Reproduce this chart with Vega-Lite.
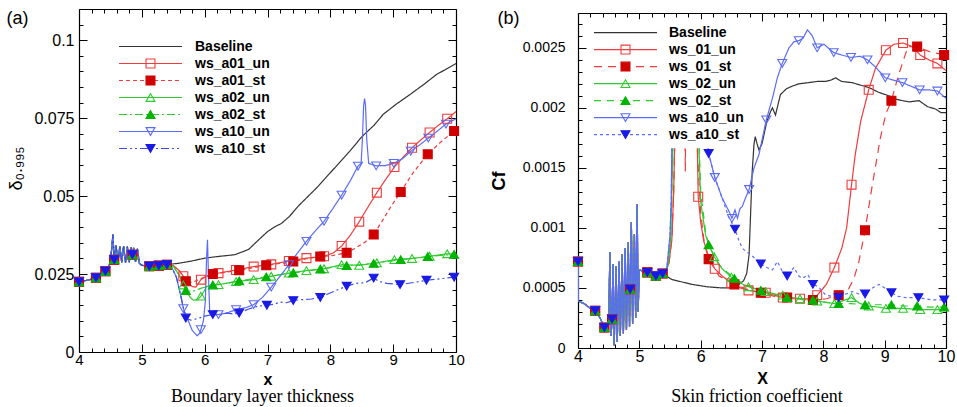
{
"$schema":"https://vega.github.io/schema/vega-lite/v6.json",
"background":"white",
"padding":{"left":6,"top":8,"right":5,"bottom":0},
"config":{"view":{"stroke":null},"font":"Liberation Sans"},
"spacing":25,
"datasets":{
"a":[
{"s":"Baseline","x":4,"y":0.0225},{"s":"Baseline","x":4.15,"y":0.0231},{"s":"Baseline","x":4.27,"y":0.0238},{"s":"Baseline","x":4.35,"y":0.0245},{"s":"Baseline","x":4.42,"y":0.0259},{"s":"Baseline","x":4.5,"y":0.0285},{"s":"Baseline","x":4.54,"y":0.0377},{"s":"Baseline","x":4.56,"y":0.0296},{"s":"Baseline","x":4.59,"y":0.0341},{"s":"Baseline","x":4.62,"y":0.0287},{"s":"Baseline","x":4.65,"y":0.034},{"s":"Baseline","x":4.68,"y":0.0287},{"s":"Baseline","x":4.71,"y":0.0339},{"s":"Baseline","x":4.74,"y":0.0287},{"s":"Baseline","x":4.77,"y":0.0338},{"s":"Baseline","x":4.8,"y":0.0288},{"s":"Baseline","x":4.83,"y":0.0336},{"s":"Baseline","x":4.85,"y":0.0312},{"s":"Baseline","x":4.87,"y":0.0334},{"s":"Baseline","x":4.9,"y":0.0289},{"s":"Baseline","x":4.93,"y":0.0331},{"s":"Baseline","x":4.96,"y":0.0285},{"s":"Baseline","x":5,"y":0.0278},{"s":"Baseline","x":5.12,"y":0.0275},{"s":"Baseline","x":5.27,"y":0.0277},{"s":"Baseline","x":5.4,"y":0.028},
{"s":"Baseline","x":5.6,"y":0.0285},{"s":"Baseline","x":5.8,"y":0.0292},{"s":"Baseline","x":6,"y":0.0301},{"s":"Baseline","x":6.2,"y":0.0306},{"s":"Baseline","x":6.48,"y":0.0312},{"s":"Baseline","x":6.7,"y":0.0329},{"s":"Baseline","x":6.85,"y":0.0358},{"s":"Baseline","x":7,"y":0.0386},{"s":"Baseline","x":7.12,"y":0.0402},{"s":"Baseline","x":7.22,"y":0.0412},{"s":"Baseline","x":7.35,"y":0.0435},{"s":"Baseline","x":7.5,"y":0.047},{"s":"Baseline","x":7.78,"y":0.0526},{"s":"Baseline","x":8,"y":0.0575},{"s":"Baseline","x":8.31,"y":0.0644},{"s":"Baseline","x":8.5,"y":0.069},{"s":"Baseline","x":8.7,"y":0.0728},{"s":"Baseline","x":8.84,"y":0.0762},{"s":"Baseline","x":9.05,"y":0.0795},{"s":"Baseline","x":9.27,"y":0.0826},{"s":"Baseline","x":9.5,"y":0.086},{"s":"Baseline","x":9.69,"y":0.089},{"s":"Baseline","x":9.85,"y":0.0908},{"s":"Baseline","x":10,"y":0.0925},
{"s":"ws_a01_un","x":4,"y":0.0225,"m":1},{"s":"ws_a01_un","x":4.15,"y":0.0231},{"s":"ws_a01_un","x":4.27,"y":0.0238,"m":1},{"s":"ws_a01_un","x":4.35,"y":0.0245},{"s":"ws_a01_un","x":4.42,"y":0.0259,"m":1},{"s":"ws_a01_un","x":4.5,"y":0.0285},{"s":"ws_a01_un","x":4.54,"y":0.0377},{"s":"ws_a01_un","x":4.56,"y":0.0296,"m":1},{"s":"ws_a01_un","x":4.59,"y":0.0341},{"s":"ws_a01_un","x":4.62,"y":0.0287},{"s":"ws_a01_un","x":4.65,"y":0.034},{"s":"ws_a01_un","x":4.68,"y":0.0287},{"s":"ws_a01_un","x":4.71,"y":0.0339},{"s":"ws_a01_un","x":4.74,"y":0.0287},{"s":"ws_a01_un","x":4.77,"y":0.0338},{"s":"ws_a01_un","x":4.8,"y":0.0288},{"s":"ws_a01_un","x":4.83,"y":0.0336},{"s":"ws_a01_un","x":4.85,"y":0.0312,"m":1},{"s":"ws_a01_un","x":4.87,"y":0.0334},{"s":"ws_a01_un","x":4.9,"y":0.0289},{"s":"ws_a01_un","x":4.93,"y":0.0331},{"s":"ws_a01_un","x":4.96,"y":0.0285},{"s":"ws_a01_un","x":5,"y":0.0278},{"s":"ws_a01_un","x":5.12,"y":0.0275,"m":1},{"s":"ws_a01_un","x":5.27,"y":0.0277,"m":1},{"s":"ws_a01_un","x":5.4,"y":0.028,"m":1},
{"s":"ws_a01_un","x":5.5,"y":0.0277},{"s":"ws_a01_un","x":5.6,"y":0.026},{"s":"ws_a01_un","x":5.66,"y":0.0243,"m":1},{"s":"ws_a01_un","x":5.72,"y":0.0225},{"s":"ws_a01_un","x":5.8,"y":0.021},{"s":"ws_a01_un","x":5.86,"y":0.0208},{"s":"ws_a01_un","x":5.94,"y":0.0232,"m":1},{"s":"ws_a01_un","x":6.02,"y":0.0243},{"s":"ws_a01_un","x":6.1,"y":0.0248},{"s":"ws_a01_un","x":6.22,"y":0.0253,"m":1},{"s":"ws_a01_un","x":6.5,"y":0.0263,"m":1},{"s":"ws_a01_un","x":6.78,"y":0.0274,"m":1},{"s":"ws_a01_un","x":7.06,"y":0.0281,"m":1},{"s":"ws_a01_un","x":7.34,"y":0.0292,"m":1},{"s":"ws_a01_un","x":7.62,"y":0.0301,"m":1},{"s":"ws_a01_un","x":7.9,"y":0.0307,"m":1},{"s":"ws_a01_un","x":8.05,"y":0.0318},{"s":"ws_a01_un","x":8.18,"y":0.034,"m":1},{"s":"ws_a01_un","x":8.32,"y":0.0375},{"s":"ws_a01_un","x":8.46,"y":0.0418,"m":1},{"s":"ws_a01_un","x":8.6,"y":0.0465},{"s":"ws_a01_un","x":8.74,"y":0.0511,"m":1},{"s":"ws_a01_un","x":8.88,"y":0.0553},{"s":"ws_a01_un","x":9.02,"y":0.0593,"m":1},{"s":"ws_a01_un","x":9.16,"y":0.0625},{"s":"ws_a01_un","x":9.3,"y":0.0655,"m":1},{"s":"ws_a01_un","x":9.44,"y":0.068},{"s":"ws_a01_un","x":9.58,"y":0.0704,"m":1},{"s":"ws_a01_un","x":9.72,"y":0.0727},{"s":"ws_a01_un","x":9.86,"y":0.0748,"m":1},{"s":"ws_a01_un","x":10,"y":0.0771},
{"s":"ws_a01_st","x":4,"y":0.0225,"m":1},{"s":"ws_a01_st","x":4.15,"y":0.0231},{"s":"ws_a01_st","x":4.27,"y":0.0238,"m":1},{"s":"ws_a01_st","x":4.35,"y":0.0245},{"s":"ws_a01_st","x":4.42,"y":0.0259,"m":1},{"s":"ws_a01_st","x":4.5,"y":0.0285},{"s":"ws_a01_st","x":4.54,"y":0.0377},{"s":"ws_a01_st","x":4.56,"y":0.0296,"m":1},{"s":"ws_a01_st","x":4.59,"y":0.0341},{"s":"ws_a01_st","x":4.62,"y":0.0287},{"s":"ws_a01_st","x":4.65,"y":0.034},{"s":"ws_a01_st","x":4.68,"y":0.0287},{"s":"ws_a01_st","x":4.71,"y":0.0339},{"s":"ws_a01_st","x":4.74,"y":0.0287},{"s":"ws_a01_st","x":4.77,"y":0.0338},{"s":"ws_a01_st","x":4.8,"y":0.0288},{"s":"ws_a01_st","x":4.83,"y":0.0336},{"s":"ws_a01_st","x":4.85,"y":0.0312,"m":1},{"s":"ws_a01_st","x":4.87,"y":0.0334},{"s":"ws_a01_st","x":4.9,"y":0.0289},{"s":"ws_a01_st","x":4.93,"y":0.0331},{"s":"ws_a01_st","x":4.96,"y":0.0285},{"s":"ws_a01_st","x":5,"y":0.0278},{"s":"ws_a01_st","x":5.12,"y":0.0275,"m":1},{"s":"ws_a01_st","x":5.27,"y":0.0277,"m":1},{"s":"ws_a01_st","x":5.4,"y":0.028,"m":1},
{"s":"ws_a01_st","x":5.5,"y":0.0277},{"s":"ws_a01_st","x":5.6,"y":0.026},{"s":"ws_a01_st","x":5.7,"y":0.0227,"m":1},{"s":"ws_a01_st","x":5.8,"y":0.0223},{"s":"ws_a01_st","x":5.95,"y":0.0236},{"s":"ws_a01_st","x":6.13,"y":0.025,"m":1},{"s":"ws_a01_st","x":6.34,"y":0.0256},{"s":"ws_a01_st","x":6.55,"y":0.0262,"m":1},{"s":"ws_a01_st","x":6.77,"y":0.027},{"s":"ws_a01_st","x":6.98,"y":0.0278,"m":1},{"s":"ws_a01_st","x":7.2,"y":0.0284},{"s":"ws_a01_st","x":7.41,"y":0.029,"m":1},{"s":"ws_a01_st","x":7.62,"y":0.0299},{"s":"ws_a01_st","x":7.84,"y":0.0306,"m":1},{"s":"ws_a01_st","x":8.05,"y":0.031},{"s":"ws_a01_st","x":8.26,"y":0.0318,"m":1},{"s":"ws_a01_st","x":8.4,"y":0.0333},{"s":"ws_a01_st","x":8.55,"y":0.0352},{"s":"ws_a01_st","x":8.69,"y":0.0377,"m":1},{"s":"ws_a01_st","x":8.82,"y":0.0418},{"s":"ws_a01_st","x":8.96,"y":0.0465},{"s":"ws_a01_st","x":9.12,"y":0.0513,"m":1},{"s":"ws_a01_st","x":9.3,"y":0.057},{"s":"ws_a01_st","x":9.55,"y":0.0634,"m":1},{"s":"ws_a01_st","x":9.75,"y":0.0672},{"s":"ws_a01_st","x":9.97,"y":0.0709,"m":1},{"s":"ws_a01_st","x":10,"y":0.0712},
{"s":"ws_a02_un","x":4,"y":0.0225,"m":1},{"s":"ws_a02_un","x":4.15,"y":0.0231},{"s":"ws_a02_un","x":4.27,"y":0.0238,"m":1},{"s":"ws_a02_un","x":4.35,"y":0.0245},{"s":"ws_a02_un","x":4.42,"y":0.0259,"m":1},{"s":"ws_a02_un","x":4.5,"y":0.0285},{"s":"ws_a02_un","x":4.54,"y":0.0377},{"s":"ws_a02_un","x":4.56,"y":0.0296,"m":1},{"s":"ws_a02_un","x":4.59,"y":0.0341},{"s":"ws_a02_un","x":4.62,"y":0.0287},{"s":"ws_a02_un","x":4.65,"y":0.034},{"s":"ws_a02_un","x":4.68,"y":0.0287},{"s":"ws_a02_un","x":4.71,"y":0.0339},{"s":"ws_a02_un","x":4.74,"y":0.0287},{"s":"ws_a02_un","x":4.77,"y":0.0338},{"s":"ws_a02_un","x":4.8,"y":0.0288},{"s":"ws_a02_un","x":4.83,"y":0.0336},{"s":"ws_a02_un","x":4.85,"y":0.0312,"m":1},{"s":"ws_a02_un","x":4.87,"y":0.0334},{"s":"ws_a02_un","x":4.9,"y":0.0289},{"s":"ws_a02_un","x":4.93,"y":0.0331},{"s":"ws_a02_un","x":4.96,"y":0.0285},{"s":"ws_a02_un","x":5,"y":0.0278},{"s":"ws_a02_un","x":5.12,"y":0.0275,"m":1},{"s":"ws_a02_un","x":5.27,"y":0.0277,"m":1},{"s":"ws_a02_un","x":5.4,"y":0.028,"m":1},
{"s":"ws_a02_un","x":5.5,"y":0.0275},{"s":"ws_a02_un","x":5.6,"y":0.0245},{"s":"ws_a02_un","x":5.66,"y":0.0215,"m":1},{"s":"ws_a02_un","x":5.72,"y":0.0193},{"s":"ws_a02_un","x":5.77,"y":0.0175},{"s":"ws_a02_un","x":5.82,"y":0.0166},{"s":"ws_a02_un","x":5.89,"y":0.0168},{"s":"ws_a02_un","x":5.94,"y":0.0179,"m":1},{"s":"ws_a02_un","x":5.99,"y":0.0195},{"s":"ws_a02_un","x":6.03,"y":0.021},{"s":"ws_a02_un","x":6.1,"y":0.0214},{"s":"ws_a02_un","x":6.22,"y":0.0216,"m":1},{"s":"ws_a02_un","x":6.5,"y":0.0226,"m":1},{"s":"ws_a02_un","x":6.78,"y":0.0232,"m":1},{"s":"ws_a02_un","x":7.06,"y":0.0243,"m":1},{"s":"ws_a02_un","x":7.34,"y":0.0253,"m":1},{"s":"ws_a02_un","x":7.62,"y":0.0261,"m":1},{"s":"ws_a02_un","x":7.9,"y":0.0267,"m":1},{"s":"ws_a02_un","x":8.18,"y":0.028,"m":1},{"s":"ws_a02_un","x":8.46,"y":0.0278,"m":1},{"s":"ws_a02_un","x":8.74,"y":0.0286,"m":1},{"s":"ws_a02_un","x":9.02,"y":0.0296,"m":1},{"s":"ws_a02_un","x":9.3,"y":0.03,"m":1},{"s":"ws_a02_un","x":9.58,"y":0.0307,"m":1},{"s":"ws_a02_un","x":9.86,"y":0.0315,"m":1},{"s":"ws_a02_un","x":10,"y":0.0315},
{"s":"ws_a02_st","x":4,"y":0.0225,"m":1},{"s":"ws_a02_st","x":4.15,"y":0.0231},{"s":"ws_a02_st","x":4.27,"y":0.0238,"m":1},{"s":"ws_a02_st","x":4.35,"y":0.0245},{"s":"ws_a02_st","x":4.42,"y":0.0259,"m":1},{"s":"ws_a02_st","x":4.5,"y":0.0285},{"s":"ws_a02_st","x":4.54,"y":0.0377},{"s":"ws_a02_st","x":4.56,"y":0.0296,"m":1},{"s":"ws_a02_st","x":4.59,"y":0.0341},{"s":"ws_a02_st","x":4.62,"y":0.0287},{"s":"ws_a02_st","x":4.65,"y":0.034},{"s":"ws_a02_st","x":4.68,"y":0.0287},{"s":"ws_a02_st","x":4.71,"y":0.0339},{"s":"ws_a02_st","x":4.74,"y":0.0287},{"s":"ws_a02_st","x":4.77,"y":0.0338},{"s":"ws_a02_st","x":4.8,"y":0.0288},{"s":"ws_a02_st","x":4.83,"y":0.0336},{"s":"ws_a02_st","x":4.85,"y":0.0312,"m":1},{"s":"ws_a02_st","x":4.87,"y":0.0334},{"s":"ws_a02_st","x":4.9,"y":0.0289},{"s":"ws_a02_st","x":4.93,"y":0.0331},{"s":"ws_a02_st","x":4.96,"y":0.0285},{"s":"ws_a02_st","x":5,"y":0.0278},{"s":"ws_a02_st","x":5.12,"y":0.0275,"m":1},{"s":"ws_a02_st","x":5.27,"y":0.0277,"m":1},{"s":"ws_a02_st","x":5.4,"y":0.028,"m":1},
{"s":"ws_a02_st","x":5.5,"y":0.0275},{"s":"ws_a02_st","x":5.6,"y":0.0245},{"s":"ws_a02_st","x":5.7,"y":0.0197,"m":1},{"s":"ws_a02_st","x":5.8,"y":0.0194},{"s":"ws_a02_st","x":5.95,"y":0.0205},{"s":"ws_a02_st","x":6.13,"y":0.0215,"m":1},{"s":"ws_a02_st","x":6.34,"y":0.022},{"s":"ws_a02_st","x":6.55,"y":0.0228,"m":1},{"s":"ws_a02_st","x":6.77,"y":0.0235},{"s":"ws_a02_st","x":6.98,"y":0.0241,"m":1},{"s":"ws_a02_st","x":7.2,"y":0.0248},{"s":"ws_a02_st","x":7.41,"y":0.0254,"m":1},{"s":"ws_a02_st","x":7.62,"y":0.026},{"s":"ws_a02_st","x":7.84,"y":0.0266,"m":1},{"s":"ws_a02_st","x":8.05,"y":0.0272},{"s":"ws_a02_st","x":8.26,"y":0.0277,"m":1},{"s":"ws_a02_st","x":8.48,"y":0.028},{"s":"ws_a02_st","x":8.69,"y":0.0284,"m":1},{"s":"ws_a02_st","x":8.9,"y":0.029},{"s":"ws_a02_st","x":9.12,"y":0.0296,"m":1},{"s":"ws_a02_st","x":9.33,"y":0.03},{"s":"ws_a02_st","x":9.55,"y":0.0306,"m":1},{"s":"ws_a02_st","x":9.76,"y":0.031},{"s":"ws_a02_st","x":9.97,"y":0.0313,"m":1},
{"s":"ws_a10_un","x":4,"y":0.0225,"m":1},{"s":"ws_a10_un","x":4.15,"y":0.0231},{"s":"ws_a10_un","x":4.27,"y":0.0238,"m":1},{"s":"ws_a10_un","x":4.35,"y":0.0245},{"s":"ws_a10_un","x":4.42,"y":0.0259,"m":1},{"s":"ws_a10_un","x":4.5,"y":0.0285},{"s":"ws_a10_un","x":4.54,"y":0.0377},{"s":"ws_a10_un","x":4.56,"y":0.0296,"m":1},{"s":"ws_a10_un","x":4.59,"y":0.0341},{"s":"ws_a10_un","x":4.62,"y":0.0287},{"s":"ws_a10_un","x":4.65,"y":0.034},{"s":"ws_a10_un","x":4.68,"y":0.0287},{"s":"ws_a10_un","x":4.71,"y":0.0339},{"s":"ws_a10_un","x":4.74,"y":0.0287},{"s":"ws_a10_un","x":4.77,"y":0.0338},{"s":"ws_a10_un","x":4.8,"y":0.0288},{"s":"ws_a10_un","x":4.83,"y":0.0336},{"s":"ws_a10_un","x":4.85,"y":0.0312,"m":1},{"s":"ws_a10_un","x":4.87,"y":0.0334},{"s":"ws_a10_un","x":4.9,"y":0.0289},{"s":"ws_a10_un","x":4.93,"y":0.0331},{"s":"ws_a10_un","x":4.96,"y":0.0285},{"s":"ws_a10_un","x":5,"y":0.0278},{"s":"ws_a10_un","x":5.12,"y":0.0275,"m":1},{"s":"ws_a10_un","x":5.27,"y":0.0277,"m":1},{"s":"ws_a10_un","x":5.4,"y":0.028,"m":1},
{"s":"ws_a10_un","x":5.48,"y":0.027},{"s":"ws_a10_un","x":5.55,"y":0.024},{"s":"ws_a10_un","x":5.62,"y":0.018},{"s":"ws_a10_un","x":5.66,"y":0.0139,"m":1},{"s":"ws_a10_un","x":5.72,"y":0.011},{"s":"ws_a10_un","x":5.8,"y":0.007},{"s":"ws_a10_un","x":5.88,"y":0.0052},{"s":"ws_a10_un","x":5.92,"y":0.006},{"s":"ws_a10_un","x":5.94,"y":0.0072,"m":1},{"s":"ws_a10_un","x":5.98,"y":0.01},{"s":"ws_a10_un","x":6.01,"y":0.016},{"s":"ws_a10_un","x":6.03,"y":0.03},{"s":"ws_a10_un","x":6.045,"y":0.036},{"s":"ws_a10_un","x":6.06,"y":0.025},{"s":"ws_a10_un","x":6.08,"y":0.013},{"s":"ws_a10_un","x":6.12,"y":0.0122},{"s":"ws_a10_un","x":6.22,"y":0.012,"m":1},{"s":"ws_a10_un","x":6.35,"y":0.0125},{"s":"ws_a10_un","x":6.5,"y":0.0136,"m":1},{"s":"ws_a10_un","x":6.65,"y":0.0142},{"s":"ws_a10_un","x":6.78,"y":0.0152,"m":1},{"s":"ws_a10_un","x":6.92,"y":0.0175},{"s":"ws_a10_un","x":7.06,"y":0.0208,"m":1},{"s":"ws_a10_un","x":7.2,"y":0.0243},{"s":"ws_a10_un","x":7.34,"y":0.028,"m":1},{"s":"ws_a10_un","x":7.48,"y":0.0318},{"s":"ws_a10_un","x":7.62,"y":0.0355,"m":1},{"s":"ws_a10_un","x":7.76,"y":0.0388},{"s":"ws_a10_un","x":7.9,"y":0.0419,"m":1},{"s":"ws_a10_un","x":8.04,"y":0.046},{"s":"ws_a10_un","x":8.18,"y":0.0503,"m":1},{"s":"ws_a10_un","x":8.32,"y":0.055},{"s":"ws_a10_un","x":8.44,"y":0.0596,"m":1},{"s":"ws_a10_un","x":8.49,"y":0.0605},{"s":"ws_a10_un","x":8.51,"y":0.068},{"s":"ws_a10_un","x":8.53,"y":0.079},{"s":"ws_a10_un","x":8.545,"y":0.0813},{"s":"ws_a10_un","x":8.56,"y":0.079},{"s":"ws_a10_un","x":8.58,"y":0.068},{"s":"ws_a10_un","x":8.61,"y":0.0605},{"s":"ws_a10_un","x":8.73,"y":0.0597,"m":1},{"s":"ws_a10_un","x":8.88,"y":0.0598},{"s":"ws_a10_un","x":9.01,"y":0.0605,"m":1},{"s":"ws_a10_un","x":9.15,"y":0.062},{"s":"ws_a10_un","x":9.28,"y":0.0644,"m":1},{"s":"ws_a10_un","x":9.42,"y":0.0664},{"s":"ws_a10_un","x":9.56,"y":0.0686,"m":1},{"s":"ws_a10_un","x":9.7,"y":0.0708},{"s":"ws_a10_un","x":9.84,"y":0.0731,"m":1},{"s":"ws_a10_un","x":10,"y":0.0748},
{"s":"ws_a10_st","x":4,"y":0.0225,"m":1},{"s":"ws_a10_st","x":4.15,"y":0.0231},{"s":"ws_a10_st","x":4.27,"y":0.0238,"m":1},{"s":"ws_a10_st","x":4.35,"y":0.0245},{"s":"ws_a10_st","x":4.42,"y":0.0259,"m":1},{"s":"ws_a10_st","x":4.5,"y":0.0285},{"s":"ws_a10_st","x":4.54,"y":0.0377},{"s":"ws_a10_st","x":4.56,"y":0.0296,"m":1},{"s":"ws_a10_st","x":4.59,"y":0.0341},{"s":"ws_a10_st","x":4.62,"y":0.0287},{"s":"ws_a10_st","x":4.65,"y":0.034},{"s":"ws_a10_st","x":4.68,"y":0.0287},{"s":"ws_a10_st","x":4.71,"y":0.0339},{"s":"ws_a10_st","x":4.74,"y":0.0287},{"s":"ws_a10_st","x":4.77,"y":0.0338},{"s":"ws_a10_st","x":4.8,"y":0.0288},{"s":"ws_a10_st","x":4.83,"y":0.0336},{"s":"ws_a10_st","x":4.85,"y":0.0312,"m":1},{"s":"ws_a10_st","x":4.87,"y":0.0334},{"s":"ws_a10_st","x":4.9,"y":0.0289},{"s":"ws_a10_st","x":4.93,"y":0.0331},{"s":"ws_a10_st","x":4.96,"y":0.0285},{"s":"ws_a10_st","x":5,"y":0.0278},{"s":"ws_a10_st","x":5.12,"y":0.0275,"m":1},{"s":"ws_a10_st","x":5.27,"y":0.0277,"m":1},{"s":"ws_a10_st","x":5.4,"y":0.028,"m":1},
{"s":"ws_a10_st","x":5.48,"y":0.027},{"s":"ws_a10_st","x":5.55,"y":0.024},{"s":"ws_a10_st","x":5.62,"y":0.018},{"s":"ws_a10_st","x":5.7,"y":0.0109,"m":1},{"s":"ws_a10_st","x":5.78,"y":0.0102},{"s":"ws_a10_st","x":5.9,"y":0.0108},{"s":"ws_a10_st","x":6,"y":0.0115},{"s":"ws_a10_st","x":6.13,"y":0.012,"m":1},{"s":"ws_a10_st","x":6.25,"y":0.0118},{"s":"ws_a10_st","x":6.35,"y":0.0125},{"s":"ws_a10_st","x":6.45,"y":0.0122},{"s":"ws_a10_st","x":6.55,"y":0.0125,"m":1},{"s":"ws_a10_st","x":6.7,"y":0.0138},{"s":"ws_a10_st","x":6.85,"y":0.0147},{"s":"ws_a10_st","x":6.99,"y":0.015,"m":1},{"s":"ws_a10_st","x":7.1,"y":0.0153},{"s":"ws_a10_st","x":7.2,"y":0.016},{"s":"ws_a10_st","x":7.3,"y":0.0158},{"s":"ws_a10_st","x":7.41,"y":0.0165,"m":1},{"s":"ws_a10_st","x":7.55,"y":0.0168},{"s":"ws_a10_st","x":7.7,"y":0.017},{"s":"ws_a10_st","x":7.84,"y":0.0175,"m":1},{"s":"ws_a10_st","x":7.95,"y":0.0185},{"s":"ws_a10_st","x":8.1,"y":0.0198},{"s":"ws_a10_st","x":8.26,"y":0.0211,"m":1},{"s":"ws_a10_st","x":8.4,"y":0.022},{"s":"ws_a10_st","x":8.55,"y":0.0222},{"s":"ws_a10_st","x":8.69,"y":0.0237,"m":1},{"s":"ws_a10_st","x":8.78,"y":0.0226},{"s":"ws_a10_st","x":8.9,"y":0.022},{"s":"ws_a10_st","x":9.11,"y":0.0216,"m":1},{"s":"ws_a10_st","x":9.3,"y":0.0222},{"s":"ws_a10_st","x":9.53,"y":0.023,"m":1},{"s":"ws_a10_st","x":9.75,"y":0.0235},{"s":"ws_a10_st","x":9.97,"y":0.024,"m":1},{"s":"ws_a10_st","x":10,"y":0.0241}
],
"b":[
{"s":"Baseline","x":4,"y":0.00072},{"s":"Baseline","x":4.004,"y":0.00039},{"s":"Baseline","x":4.1,"y":0.00037},{"s":"Baseline","x":4.2,"y":0.00033},{"s":"Baseline","x":4.28,"y":0.00031},{"s":"Baseline","x":4.36,"y":0.00025},{"s":"Baseline","x":4.43,"y":0.00017},{"s":"Baseline","x":4.48,"y":0.00015},{"s":"Baseline","x":4.5,"y":0.0002},{"s":"Baseline","x":4.52,"y":0.0008},{"s":"Baseline","x":4.54,"y":0.0001},{"s":"Baseline","x":4.555,"y":0.00024},{"s":"Baseline","x":4.57,"y":0.0007},{"s":"Baseline","x":4.59,"y":0.00002},{"s":"Baseline","x":4.62,"y":0.00068},{"s":"Baseline","x":4.64,"y":0.00005},{"s":"Baseline","x":4.67,"y":0.00072},{"s":"Baseline","x":4.69,"y":0.0001},{"s":"Baseline","x":4.72,"y":0.00078},{"s":"Baseline","x":4.74,"y":0.00012},{"s":"Baseline","x":4.77,"y":0.00083},{"s":"Baseline","x":4.79,"y":0.00015},{"s":"Baseline","x":4.82,"y":0.00088},{"s":"Baseline","x":4.84,"y":0.00018},{"s":"Baseline","x":4.85,"y":0.00049},{"s":"Baseline","x":4.87,"y":0.00105},{"s":"Baseline","x":4.89,"y":0.0002},{"s":"Baseline","x":4.92,"y":0.00095},{"s":"Baseline","x":4.94,"y":0.00025},{"s":"Baseline","x":4.965,"y":0.0012},{"s":"Baseline","x":4.98,"y":0.0003},{"s":"Baseline","x":5,"y":0.00065},{"s":"Baseline","x":5.13,"y":0.00063},{"s":"Baseline","x":5.27,"y":0.0006},{"s":"Baseline","x":5.38,"y":0.00062},
{"s":"Baseline","x":5.53,"y":0.00057},{"s":"Baseline","x":5.86,"y":0.00053},{"s":"Baseline","x":6.1,"y":0.00051},{"s":"Baseline","x":6.35,"y":0.0005},{"s":"Baseline","x":6.46,"y":0.0005},{"s":"Baseline","x":6.6,"y":0.00052},{"s":"Baseline","x":6.7,"y":0.00056},{"s":"Baseline","x":6.75,"y":0.00062},{"s":"Baseline","x":6.79,"y":0.00078},{"s":"Baseline","x":6.81,"y":0.00106},{"s":"Baseline","x":6.84,"y":0.00147},{"s":"Baseline","x":6.87,"y":0.0017},{"s":"Baseline","x":6.89,"y":0.00176},{"s":"Baseline","x":6.92,"y":0.0017},{"s":"Baseline","x":6.95,"y":0.00165},{"s":"Baseline","x":7,"y":0.0017},{"s":"Baseline","x":7.08,"y":0.00189},{"s":"Baseline","x":7.14,"y":0.00197},{"s":"Baseline","x":7.17,"y":0.002},{"s":"Baseline","x":7.22,"y":0.00194},{"s":"Baseline","x":7.3,"y":0.00211},{"s":"Baseline","x":7.4,"y":0.00216},{"s":"Baseline","x":7.49,"y":0.00218},{"s":"Baseline","x":7.6,"y":0.0022},{"s":"Baseline","x":7.76,"y":0.00221},{"s":"Baseline","x":7.9,"y":0.00222},{"s":"Baseline","x":8.03,"y":0.00222},{"s":"Baseline","x":8.12,"y":0.00223},{"s":"Baseline","x":8.2,"y":0.00225},{"s":"Baseline","x":8.3,"y":0.00222},{"s":"Baseline","x":8.47,"y":0.00221},{"s":"Baseline","x":8.6,"y":0.00219},{"s":"Baseline","x":8.74,"y":0.00217},{"s":"Baseline","x":8.9,"y":0.00213},{"s":"Baseline","x":9.07,"y":0.0021},{"s":"Baseline","x":9.2,"y":0.00207},{"s":"Baseline","x":9.29,"y":0.00206},{"s":"Baseline","x":9.4,"y":0.00205},{"s":"Baseline","x":9.56,"y":0.00206},{"s":"Baseline","x":9.7,"y":0.00201},{"s":"Baseline","x":9.83,"y":0.00199},{"s":"Baseline","x":9.92,"y":0.00196},{"s":"Baseline","x":10,"y":0.00196},
{"s":"ws_01_un","x":4,"y":0.00072,"m":1},{"s":"ws_01_un","x":4.004,"y":0.00039},{"s":"ws_01_un","x":4.1,"y":0.00037},{"s":"ws_01_un","x":4.2,"y":0.00033},{"s":"ws_01_un","x":4.28,"y":0.00031,"m":1},{"s":"ws_01_un","x":4.36,"y":0.00025},{"s":"ws_01_un","x":4.43,"y":0.00017,"m":1},{"s":"ws_01_un","x":4.48,"y":0.00015},{"s":"ws_01_un","x":4.5,"y":0.0002},{"s":"ws_01_un","x":4.52,"y":0.0008},{"s":"ws_01_un","x":4.54,"y":0.0001},{"s":"ws_01_un","x":4.555,"y":0.00024,"m":1},{"s":"ws_01_un","x":4.57,"y":0.0007},{"s":"ws_01_un","x":4.59,"y":0.00002},{"s":"ws_01_un","x":4.62,"y":0.00068},{"s":"ws_01_un","x":4.64,"y":0.00005},{"s":"ws_01_un","x":4.67,"y":0.00072},{"s":"ws_01_un","x":4.69,"y":0.0001},{"s":"ws_01_un","x":4.72,"y":0.00078},{"s":"ws_01_un","x":4.74,"y":0.00012},{"s":"ws_01_un","x":4.77,"y":0.00083},{"s":"ws_01_un","x":4.79,"y":0.00015},{"s":"ws_01_un","x":4.82,"y":0.00088},{"s":"ws_01_un","x":4.84,"y":0.00018},{"s":"ws_01_un","x":4.85,"y":0.00049,"m":1},{"s":"ws_01_un","x":4.87,"y":0.00105},{"s":"ws_01_un","x":4.89,"y":0.0002},{"s":"ws_01_un","x":4.92,"y":0.00095},{"s":"ws_01_un","x":4.94,"y":0.00025},{"s":"ws_01_un","x":4.965,"y":0.0012},{"s":"ws_01_un","x":4.98,"y":0.0003},{"s":"ws_01_un","x":5,"y":0.00065},{"s":"ws_01_un","x":5.13,"y":0.00063,"m":1},{"s":"ws_01_un","x":5.27,"y":0.0006,"m":1},{"s":"ws_01_un","x":5.38,"y":0.00062,"m":1},
{"s":"ws_01_un","x":5.42,"y":0.00063},{"s":"ws_01_un","x":5.48,"y":0.0007},{"s":"ws_01_un","x":5.53,"y":0.0009},{"s":"ws_01_un","x":5.56,"y":0.0013},{"s":"ws_01_un","x":5.58,"y":0.0018},{"s":"ws_01_un","x":5.6,"y":0.0021},{"s":"ws_01_un","x":5.93,"y":0.0021},{"s":"ws_01_un","x":5.945,"y":0.0017},{"s":"ws_01_un","x":5.96,"y":0.00126,"m":1},{"s":"ws_01_un","x":6,"y":0.00105},{"s":"ws_01_un","x":6.05,"y":0.00089},{"s":"ws_01_un","x":6.13,"y":0.00076},{"s":"ws_01_un","x":6.23,"y":0.00066,"m":1},{"s":"ws_01_un","x":6.35,"y":0.0006},{"s":"ws_01_un","x":6.5,"y":0.00054,"m":1},{"s":"ws_01_un","x":6.65,"y":0.0005},{"s":"ws_01_un","x":6.78,"y":0.00048,"m":1},{"s":"ws_01_un","x":6.9,"y":0.00047},{"s":"ws_01_un","x":7.06,"y":0.00046,"m":1},{"s":"ws_01_un","x":7.2,"y":0.00044},{"s":"ws_01_un","x":7.34,"y":0.00042,"m":1},{"s":"ws_01_un","x":7.5,"y":0.00041},{"s":"ws_01_un","x":7.62,"y":0.00041,"m":1},{"s":"ws_01_un","x":7.78,"y":0.00041},{"s":"ws_01_un","x":7.9,"y":0.00044,"m":1},{"s":"ws_01_un","x":8.05,"y":0.00053},{"s":"ws_01_un","x":8.18,"y":0.00067,"m":1},{"s":"ws_01_un","x":8.3,"y":0.00083},{"s":"ws_01_un","x":8.38,"y":0.001},{"s":"ws_01_un","x":8.46,"y":0.00136,"m":1},{"s":"ws_01_un","x":8.52,"y":0.00161},{"s":"ws_01_un","x":8.61,"y":0.00189},{"s":"ws_01_un","x":8.74,"y":0.00215,"m":1},{"s":"ws_01_un","x":8.85,"y":0.00233},{"s":"ws_01_un","x":9.02,"y":0.00248,"m":1},{"s":"ws_01_un","x":9.15,"y":0.00253},{"s":"ws_01_un","x":9.3,"y":0.00254,"m":1},{"s":"ws_01_un","x":9.45,"y":0.00251},{"s":"ws_01_un","x":9.58,"y":0.00244,"m":1},{"s":"ws_01_un","x":9.72,"y":0.0024},{"s":"ws_01_un","x":9.86,"y":0.00237,"m":1},{"s":"ws_01_un","x":10,"y":0.00231},
{"s":"ws_01_st","x":4,"y":0.00072,"m":1},{"s":"ws_01_st","x":4.004,"y":0.00039},{"s":"ws_01_st","x":4.1,"y":0.00037},{"s":"ws_01_st","x":4.2,"y":0.00033},{"s":"ws_01_st","x":4.28,"y":0.00031,"m":1},{"s":"ws_01_st","x":4.36,"y":0.00025},{"s":"ws_01_st","x":4.43,"y":0.00017,"m":1},{"s":"ws_01_st","x":4.48,"y":0.00015},{"s":"ws_01_st","x":4.5,"y":0.0002},{"s":"ws_01_st","x":4.52,"y":0.0008},{"s":"ws_01_st","x":4.54,"y":0.0001},{"s":"ws_01_st","x":4.555,"y":0.00024,"m":1},{"s":"ws_01_st","x":4.57,"y":0.0007},{"s":"ws_01_st","x":4.59,"y":0.00002},{"s":"ws_01_st","x":4.62,"y":0.00068},{"s":"ws_01_st","x":4.64,"y":0.00005},{"s":"ws_01_st","x":4.67,"y":0.00072},{"s":"ws_01_st","x":4.69,"y":0.0001},{"s":"ws_01_st","x":4.72,"y":0.00078},{"s":"ws_01_st","x":4.74,"y":0.00012},{"s":"ws_01_st","x":4.77,"y":0.00083},{"s":"ws_01_st","x":4.79,"y":0.00015},{"s":"ws_01_st","x":4.82,"y":0.00088},{"s":"ws_01_st","x":4.84,"y":0.00018},{"s":"ws_01_st","x":4.85,"y":0.00049,"m":1},{"s":"ws_01_st","x":4.87,"y":0.00105},{"s":"ws_01_st","x":4.89,"y":0.0002},{"s":"ws_01_st","x":4.92,"y":0.00095},{"s":"ws_01_st","x":4.94,"y":0.00025},{"s":"ws_01_st","x":4.965,"y":0.0012},{"s":"ws_01_st","x":4.98,"y":0.0003},{"s":"ws_01_st","x":5,"y":0.00065},{"s":"ws_01_st","x":5.13,"y":0.00063,"m":1},{"s":"ws_01_st","x":5.27,"y":0.0006,"m":1},{"s":"ws_01_st","x":5.38,"y":0.00062,"m":1},
{"s":"ws_01_st","x":5.42,"y":0.00063},{"s":"ws_01_st","x":5.48,"y":0.0007},{"s":"ws_01_st","x":5.53,"y":0.0009},{"s":"ws_01_st","x":5.56,"y":0.0013},{"s":"ws_01_st","x":5.58,"y":0.0018},{"s":"ws_01_st","x":5.6,"y":0.0021},{"s":"ws_01_st","x":5.74,"y":0.0021},{"s":"ws_01_st","x":5.75,"y":0.00147},{"s":"ws_01_st","x":5.76,"y":0.0021},{"s":"ws_01_st","x":5.93,"y":0.0021},{"s":"ws_01_st","x":5.95,"y":0.0016},{"s":"ws_01_st","x":6,"y":0.00113},{"s":"ws_01_st","x":6.06,"y":0.00087},{"s":"ws_01_st","x":6.13,"y":0.00074,"m":1},{"s":"ws_01_st","x":6.3,"y":0.0006},{"s":"ws_01_st","x":6.55,"y":0.00053,"m":1},{"s":"ws_01_st","x":6.75,"y":0.00049},{"s":"ws_01_st","x":6.98,"y":0.00046,"m":1},{"s":"ws_01_st","x":7.2,"y":0.00043},{"s":"ws_01_st","x":7.41,"y":0.00042,"m":1},{"s":"ws_01_st","x":7.6,"y":0.00041},{"s":"ws_01_st","x":7.83,"y":0.0004,"m":1},{"s":"ws_01_st","x":8.05,"y":0.00041},{"s":"ws_01_st","x":8.25,"y":0.00044,"m":1},{"s":"ws_01_st","x":8.4,"y":0.00048},{"s":"ws_01_st","x":8.5,"y":0.00058},{"s":"ws_01_st","x":8.58,"y":0.00072},{"s":"ws_01_st","x":8.68,"y":0.00098,"m":1},{"s":"ws_01_st","x":8.79,"y":0.00133},{"s":"ws_01_st","x":8.93,"y":0.00175},{"s":"ws_01_st","x":9.02,"y":0.00195},{"s":"ws_01_st","x":9.11,"y":0.00206,"m":1},{"s":"ws_01_st","x":9.23,"y":0.00228},{"s":"ws_01_st","x":9.38,"y":0.00251},{"s":"ws_01_st","x":9.53,"y":0.00251,"m":1},{"s":"ws_01_st","x":9.72,"y":0.00247},{"s":"ws_01_st","x":9.97,"y":0.00244,"m":1},{"s":"ws_01_st","x":10,"y":0.00243},
{"s":"ws_02_un","x":4,"y":0.00072,"m":1},{"s":"ws_02_un","x":4.004,"y":0.00039},{"s":"ws_02_un","x":4.1,"y":0.00037},{"s":"ws_02_un","x":4.2,"y":0.00033},{"s":"ws_02_un","x":4.28,"y":0.00031,"m":1},{"s":"ws_02_un","x":4.36,"y":0.00025},{"s":"ws_02_un","x":4.43,"y":0.00017,"m":1},{"s":"ws_02_un","x":4.48,"y":0.00015},{"s":"ws_02_un","x":4.5,"y":0.0002},{"s":"ws_02_un","x":4.52,"y":0.0008},{"s":"ws_02_un","x":4.54,"y":0.0001},{"s":"ws_02_un","x":4.555,"y":0.00024,"m":1},{"s":"ws_02_un","x":4.57,"y":0.0007},{"s":"ws_02_un","x":4.59,"y":0.00002},{"s":"ws_02_un","x":4.62,"y":0.00068},{"s":"ws_02_un","x":4.64,"y":0.00005},{"s":"ws_02_un","x":4.67,"y":0.00072},{"s":"ws_02_un","x":4.69,"y":0.0001},{"s":"ws_02_un","x":4.72,"y":0.00078},{"s":"ws_02_un","x":4.74,"y":0.00012},{"s":"ws_02_un","x":4.77,"y":0.00083},{"s":"ws_02_un","x":4.79,"y":0.00015},{"s":"ws_02_un","x":4.82,"y":0.00088},{"s":"ws_02_un","x":4.84,"y":0.00018},{"s":"ws_02_un","x":4.85,"y":0.00049,"m":1},{"s":"ws_02_un","x":4.87,"y":0.00105},{"s":"ws_02_un","x":4.89,"y":0.0002},{"s":"ws_02_un","x":4.92,"y":0.00095},{"s":"ws_02_un","x":4.94,"y":0.00025},{"s":"ws_02_un","x":4.965,"y":0.0012},{"s":"ws_02_un","x":4.98,"y":0.0003},{"s":"ws_02_un","x":5,"y":0.00065},{"s":"ws_02_un","x":5.13,"y":0.00063,"m":1},{"s":"ws_02_un","x":5.27,"y":0.0006,"m":1},{"s":"ws_02_un","x":5.38,"y":0.00062,"m":1},
{"s":"ws_02_un","x":5.42,"y":0.00063},{"s":"ws_02_un","x":5.47,"y":0.0007},{"s":"ws_02_un","x":5.51,"y":0.0009},{"s":"ws_02_un","x":5.53,"y":0.0013},{"s":"ws_02_un","x":5.55,"y":0.0018},{"s":"ws_02_un","x":5.57,"y":0.0021},{"s":"ws_02_un","x":5.95,"y":0.0021},{"s":"ws_02_un","x":5.97,"y":0.0017},{"s":"ws_02_un","x":6,"y":0.00122},{"s":"ws_02_un","x":6.08,"y":0.00094},{"s":"ws_02_un","x":6.14,"y":0.00085},{"s":"ws_02_un","x":6.22,"y":0.00076,"m":1},{"s":"ws_02_un","x":6.35,"y":0.00066},{"s":"ws_02_un","x":6.5,"y":0.00059,"m":1},{"s":"ws_02_un","x":6.65,"y":0.00054},{"s":"ws_02_un","x":6.78,"y":0.00051,"m":1},{"s":"ws_02_un","x":6.92,"y":0.00049},{"s":"ws_02_un","x":7.06,"y":0.00047,"m":1},{"s":"ws_02_un","x":7.2,"y":0.00045},{"s":"ws_02_un","x":7.34,"y":0.00044,"m":1},{"s":"ws_02_un","x":7.5,"y":0.00042},{"s":"ws_02_un","x":7.62,"y":0.00041,"m":1},{"s":"ws_02_un","x":7.75,"y":0.0004},{"s":"ws_02_un","x":7.9,"y":0.00039,"m":1},{"s":"ws_02_un","x":8.05,"y":0.00038},{"s":"ws_02_un","x":8.18,"y":0.00037,"m":1},{"s":"ws_02_un","x":8.3,"y":0.00039},{"s":"ws_02_un","x":8.46,"y":0.00042,"m":1},{"s":"ws_02_un","x":8.6,"y":0.00037},{"s":"ws_02_un","x":8.74,"y":0.00035,"m":1},{"s":"ws_02_un","x":8.9,"y":0.00034},{"s":"ws_02_un","x":9.02,"y":0.00033,"m":1},{"s":"ws_02_un","x":9.3,"y":0.00033,"m":1},{"s":"ws_02_un","x":9.58,"y":0.00032,"m":1},{"s":"ws_02_un","x":9.86,"y":0.00032,"m":1},{"s":"ws_02_un","x":10,"y":0.00032},
{"s":"ws_02_st","x":4,"y":0.00072,"m":1},{"s":"ws_02_st","x":4.004,"y":0.00039},{"s":"ws_02_st","x":4.1,"y":0.00037},{"s":"ws_02_st","x":4.2,"y":0.00033},{"s":"ws_02_st","x":4.28,"y":0.00031,"m":1},{"s":"ws_02_st","x":4.36,"y":0.00025},{"s":"ws_02_st","x":4.43,"y":0.00017,"m":1},{"s":"ws_02_st","x":4.48,"y":0.00015},{"s":"ws_02_st","x":4.5,"y":0.0002},{"s":"ws_02_st","x":4.52,"y":0.0008},{"s":"ws_02_st","x":4.54,"y":0.0001},{"s":"ws_02_st","x":4.555,"y":0.00024,"m":1},{"s":"ws_02_st","x":4.57,"y":0.0007},{"s":"ws_02_st","x":4.59,"y":0.00002},{"s":"ws_02_st","x":4.62,"y":0.00068},{"s":"ws_02_st","x":4.64,"y":0.00005},{"s":"ws_02_st","x":4.67,"y":0.00072},{"s":"ws_02_st","x":4.69,"y":0.0001},{"s":"ws_02_st","x":4.72,"y":0.00078},{"s":"ws_02_st","x":4.74,"y":0.00012},{"s":"ws_02_st","x":4.77,"y":0.00083},{"s":"ws_02_st","x":4.79,"y":0.00015},{"s":"ws_02_st","x":4.82,"y":0.00088},{"s":"ws_02_st","x":4.84,"y":0.00018},{"s":"ws_02_st","x":4.85,"y":0.00049,"m":1},{"s":"ws_02_st","x":4.87,"y":0.00105},{"s":"ws_02_st","x":4.89,"y":0.0002},{"s":"ws_02_st","x":4.92,"y":0.00095},{"s":"ws_02_st","x":4.94,"y":0.00025},{"s":"ws_02_st","x":4.965,"y":0.0012},{"s":"ws_02_st","x":4.98,"y":0.0003},{"s":"ws_02_st","x":5,"y":0.00065},{"s":"ws_02_st","x":5.13,"y":0.00063,"m":1},{"s":"ws_02_st","x":5.27,"y":0.0006,"m":1},{"s":"ws_02_st","x":5.38,"y":0.00062,"m":1},
{"s":"ws_02_st","x":5.42,"y":0.00063},{"s":"ws_02_st","x":5.47,"y":0.0007},{"s":"ws_02_st","x":5.51,"y":0.0009},{"s":"ws_02_st","x":5.53,"y":0.0013},{"s":"ws_02_st","x":5.55,"y":0.0018},{"s":"ws_02_st","x":5.57,"y":0.0021},{"s":"ws_02_st","x":5.95,"y":0.0021},{"s":"ws_02_st","x":5.97,"y":0.0018},{"s":"ws_02_st","x":6,"y":0.0013},{"s":"ws_02_st","x":6.08,"y":0.00097},{"s":"ws_02_st","x":6.13,"y":0.00086,"m":1},{"s":"ws_02_st","x":6.3,"y":0.00069},{"s":"ws_02_st","x":6.55,"y":0.00058,"m":1},{"s":"ws_02_st","x":6.75,"y":0.00052},{"s":"ws_02_st","x":6.98,"y":0.00048,"m":1},{"s":"ws_02_st","x":7.2,"y":0.00045},{"s":"ws_02_st","x":7.41,"y":0.00042,"m":1},{"s":"ws_02_st","x":7.6,"y":0.00041},{"s":"ws_02_st","x":7.83,"y":0.0004,"m":1},{"s":"ws_02_st","x":8.05,"y":0.00038},{"s":"ws_02_st","x":8.25,"y":0.00037,"m":1},{"s":"ws_02_st","x":8.45,"y":0.00037},{"s":"ws_02_st","x":8.68,"y":0.00036,"m":1},{"s":"ws_02_st","x":8.9,"y":0.00036},{"s":"ws_02_st","x":9.11,"y":0.00036,"m":1},{"s":"ws_02_st","x":9.3,"y":0.00035},{"s":"ws_02_st","x":9.53,"y":0.00035,"m":1},{"s":"ws_02_st","x":9.75,"y":0.00034},{"s":"ws_02_st","x":9.97,"y":0.00034,"m":1},
{"s":"ws_a10_un","x":4,"y":0.00072,"m":1},{"s":"ws_a10_un","x":4.004,"y":0.00039},{"s":"ws_a10_un","x":4.1,"y":0.00037},{"s":"ws_a10_un","x":4.2,"y":0.00033},{"s":"ws_a10_un","x":4.28,"y":0.00031,"m":1},{"s":"ws_a10_un","x":4.36,"y":0.00025},{"s":"ws_a10_un","x":4.43,"y":0.00017,"m":1},{"s":"ws_a10_un","x":4.48,"y":0.00015},{"s":"ws_a10_un","x":4.5,"y":0.0002},{"s":"ws_a10_un","x":4.52,"y":0.0008},{"s":"ws_a10_un","x":4.54,"y":0.0001},{"s":"ws_a10_un","x":4.555,"y":0.00024,"m":1},{"s":"ws_a10_un","x":4.57,"y":0.0007},{"s":"ws_a10_un","x":4.59,"y":0.00002},{"s":"ws_a10_un","x":4.62,"y":0.00068},{"s":"ws_a10_un","x":4.64,"y":0.00005},{"s":"ws_a10_un","x":4.67,"y":0.00072},{"s":"ws_a10_un","x":4.69,"y":0.0001},{"s":"ws_a10_un","x":4.72,"y":0.00078},{"s":"ws_a10_un","x":4.74,"y":0.00012},{"s":"ws_a10_un","x":4.77,"y":0.00083},{"s":"ws_a10_un","x":4.79,"y":0.00015},{"s":"ws_a10_un","x":4.82,"y":0.00088},{"s":"ws_a10_un","x":4.84,"y":0.00018},{"s":"ws_a10_un","x":4.85,"y":0.00049,"m":1},{"s":"ws_a10_un","x":4.87,"y":0.00105},{"s":"ws_a10_un","x":4.89,"y":0.0002},{"s":"ws_a10_un","x":4.92,"y":0.00095},{"s":"ws_a10_un","x":4.94,"y":0.00025},{"s":"ws_a10_un","x":4.965,"y":0.0012},{"s":"ws_a10_un","x":4.98,"y":0.0003},{"s":"ws_a10_un","x":5,"y":0.00065},{"s":"ws_a10_un","x":5.13,"y":0.00063,"m":1},{"s":"ws_a10_un","x":5.27,"y":0.0006,"m":1},{"s":"ws_a10_un","x":5.38,"y":0.00062,"m":1},
{"s":"ws_a10_un","x":5.42,"y":0.00061},{"s":"ws_a10_un","x":5.45,"y":0.00067},{"s":"ws_a10_un","x":5.5,"y":0.00094},{"s":"ws_a10_un","x":5.52,"y":0.00122},{"s":"ws_a10_un","x":5.53,"y":0.0017},{"s":"ws_a10_un","x":5.55,"y":0.0021},{"s":"ws_a10_un","x":6.06,"y":0.0021},{"s":"ws_a10_un","x":6.1,"y":0.0018},{"s":"ws_a10_un","x":6.13,"y":0.00162},{"s":"ws_a10_un","x":6.23,"y":0.00142,"m":1},{"s":"ws_a10_un","x":6.35,"y":0.00125},{"s":"ws_a10_un","x":6.46,"y":0.00114},{"s":"ws_a10_un","x":6.51,"y":0.00108,"m":1},{"s":"ws_a10_un","x":6.56,"y":0.00115},{"s":"ws_a10_un","x":6.6,"y":0.00108},{"s":"ws_a10_un","x":6.64,"y":0.00116},{"s":"ws_a10_un","x":6.68,"y":0.00118},{"s":"ws_a10_un","x":6.73,"y":0.00125},{"s":"ws_a10_un","x":6.79,"y":0.00132,"m":1},{"s":"ws_a10_un","x":6.87,"y":0.0015},{"s":"ws_a10_un","x":6.95,"y":0.00161},{"s":"ws_a10_un","x":7.07,"y":0.0019,"m":1},{"s":"ws_a10_un","x":7.17,"y":0.00208},{"s":"ws_a10_un","x":7.25,"y":0.00225},{"s":"ws_a10_un","x":7.33,"y":0.00237,"m":1},{"s":"ws_a10_un","x":7.44,"y":0.0025},{"s":"ws_a10_un","x":7.52,"y":0.00255},{"s":"ws_a10_un","x":7.6,"y":0.00256,"m":1},{"s":"ws_a10_un","x":7.67,"y":0.00258},{"s":"ws_a10_un","x":7.74,"y":0.00265},{"s":"ws_a10_un","x":7.82,"y":0.0026},{"s":"ws_a10_un","x":7.9,"y":0.0025,"m":1},{"s":"ws_a10_un","x":8.01,"y":0.00253},{"s":"ws_a10_un","x":8.1,"y":0.00249},{"s":"ws_a10_un","x":8.17,"y":0.00246,"m":1},{"s":"ws_a10_un","x":8.3,"y":0.00244},{"s":"ws_a10_un","x":8.45,"y":0.00242,"m":1},{"s":"ws_a10_un","x":8.6,"y":0.00243},{"s":"ws_a10_un","x":8.72,"y":0.0024,"m":1},{"s":"ws_a10_un","x":8.85,"y":0.00234},{"s":"ws_a10_un","x":9.01,"y":0.00225,"m":1},{"s":"ws_a10_un","x":9.15,"y":0.00223},{"s":"ws_a10_un","x":9.29,"y":0.00221,"m":1},{"s":"ws_a10_un","x":9.43,"y":0.00218},{"s":"ws_a10_un","x":9.57,"y":0.00215,"m":1},{"s":"ws_a10_un","x":9.72,"y":0.00215},{"s":"ws_a10_un","x":9.86,"y":0.00214,"m":1},{"s":"ws_a10_un","x":10,"y":0.00208},
{"s":"ws_a10_st","x":4,"y":0.00072,"m":1},{"s":"ws_a10_st","x":4.004,"y":0.00039},{"s":"ws_a10_st","x":4.1,"y":0.00037},{"s":"ws_a10_st","x":4.2,"y":0.00033},{"s":"ws_a10_st","x":4.28,"y":0.00031,"m":1},{"s":"ws_a10_st","x":4.36,"y":0.00025},{"s":"ws_a10_st","x":4.43,"y":0.00017,"m":1},{"s":"ws_a10_st","x":4.48,"y":0.00015},{"s":"ws_a10_st","x":4.5,"y":0.0002},{"s":"ws_a10_st","x":4.52,"y":0.0008},{"s":"ws_a10_st","x":4.54,"y":0.0001},{"s":"ws_a10_st","x":4.555,"y":0.00024,"m":1},{"s":"ws_a10_st","x":4.57,"y":0.0007},{"s":"ws_a10_st","x":4.59,"y":0.00002},{"s":"ws_a10_st","x":4.62,"y":0.00068},{"s":"ws_a10_st","x":4.64,"y":0.00005},{"s":"ws_a10_st","x":4.67,"y":0.00072},{"s":"ws_a10_st","x":4.69,"y":0.0001},{"s":"ws_a10_st","x":4.72,"y":0.00078},{"s":"ws_a10_st","x":4.74,"y":0.00012},{"s":"ws_a10_st","x":4.77,"y":0.00083},{"s":"ws_a10_st","x":4.79,"y":0.00015},{"s":"ws_a10_st","x":4.82,"y":0.00088},{"s":"ws_a10_st","x":4.84,"y":0.00018},{"s":"ws_a10_st","x":4.85,"y":0.00049,"m":1},{"s":"ws_a10_st","x":4.87,"y":0.00105},{"s":"ws_a10_st","x":4.89,"y":0.0002},{"s":"ws_a10_st","x":4.92,"y":0.00095},{"s":"ws_a10_st","x":4.94,"y":0.00025},{"s":"ws_a10_st","x":4.965,"y":0.0012},{"s":"ws_a10_st","x":4.98,"y":0.0003},{"s":"ws_a10_st","x":5,"y":0.00065},{"s":"ws_a10_st","x":5.13,"y":0.00063,"m":1},{"s":"ws_a10_st","x":5.27,"y":0.0006,"m":1},{"s":"ws_a10_st","x":5.38,"y":0.00062,"m":1},
{"s":"ws_a10_st","x":5.42,"y":0.00061},{"s":"ws_a10_st","x":5.45,"y":0.00067},{"s":"ws_a10_st","x":5.5,"y":0.00094},{"s":"ws_a10_st","x":5.52,"y":0.00122},{"s":"ws_a10_st","x":5.53,"y":0.0017},{"s":"ws_a10_st","x":5.55,"y":0.0021},{"s":"ws_a10_st","x":6.06,"y":0.0021},{"s":"ws_a10_st","x":6.1,"y":0.0018},{"s":"ws_a10_st","x":6.13,"y":0.00162,"m":1},{"s":"ws_a10_st","x":6.23,"y":0.00142},{"s":"ws_a10_st","x":6.35,"y":0.00125},{"s":"ws_a10_st","x":6.45,"y":0.0011},{"s":"ws_a10_st","x":6.5,"y":0.00105},{"s":"ws_a10_st","x":6.56,"y":0.00099,"m":1},{"s":"ws_a10_st","x":6.62,"y":0.0009},{"s":"ws_a10_st","x":6.68,"y":0.00083},{"s":"ws_a10_st","x":6.75,"y":0.0008},{"s":"ws_a10_st","x":6.81,"y":0.00078},{"s":"ws_a10_st","x":6.9,"y":0.00074},{"s":"ws_a10_st","x":6.98,"y":0.0007,"m":1},{"s":"ws_a10_st","x":7.08,"y":0.00067},{"s":"ws_a10_st","x":7.17,"y":0.00065},{"s":"ws_a10_st","x":7.25,"y":0.00072},{"s":"ws_a10_st","x":7.33,"y":0.00064},{"s":"ws_a10_st","x":7.41,"y":0.0006,"m":1},{"s":"ws_a10_st","x":7.52,"y":0.00067},{"s":"ws_a10_st","x":7.6,"y":0.0006},{"s":"ws_a10_st","x":7.66,"y":0.00058},{"s":"ws_a10_st","x":7.75,"y":0.00061},{"s":"ws_a10_st","x":7.83,"y":0.00053,"m":1},{"s":"ws_a10_st","x":7.92,"y":0.00051},{"s":"ws_a10_st","x":8.04,"y":0.00044},{"s":"ws_a10_st","x":8.15,"y":0.00043},{"s":"ws_a10_st","x":8.25,"y":0.00042,"m":1},{"s":"ws_a10_st","x":8.37,"y":0.00045},{"s":"ws_a10_st","x":8.47,"y":0.00047},{"s":"ws_a10_st","x":8.58,"y":0.00045},{"s":"ws_a10_st","x":8.68,"y":0.00045,"m":1},{"s":"ws_a10_st","x":8.8,"y":0.0005},{"s":"ws_a10_st","x":8.91,"y":0.00053},{"s":"ws_a10_st","x":9,"y":0.0005},{"s":"ws_a10_st","x":9.11,"y":0.00046,"m":1},{"s":"ws_a10_st","x":9.22,"y":0.00043},{"s":"ws_a10_st","x":9.34,"y":0.00042},{"s":"ws_a10_st","x":9.55,"y":0.00042,"m":1},{"s":"ws_a10_st","x":9.78,"y":0.0004},{"s":"ws_a10_st","x":9.97,"y":0.0004,"m":1},{"s":"ws_a10_st","x":10,"y":0.0004}
]
},
"resolve":{"scale":{"stroke":"independent","strokeDash":"independent","color":"independent","shape":"independent","fill":"independent"},"legend":{"stroke":"independent","strokeDash":"independent","color":"independent","shape":"independent","fill":"independent"}},
"hconcat":[
{
"width":377,"height":343,
"data":{"name":"a"},
"title":{"text":"Boundary layer thickness","orient":"bottom","frame":"group","anchor":"middle","font":"Liberation Serif","fontSize":18,"fontWeight":"normal","color":"black","offset":1,"dx":-5},
"resolve":{"axis":{"x":"independent","y":"independent"}},
"layer":[
{
"mark":{"type":"line","strokeWidth":1.2,"clip":true},
"encoding":{
"x":{"field":"x","type":"quantitative","scale":{"domain":[4,10],"nice":false,"zero":false},
"axis":{"orient":"bottom","values":[4,4.2,4.4,4.6,4.8,5,5.2,5.4,5.6,5.8,6,6.2,6.4,6.6,6.8,7,7.2,7.4,7.6,7.8,8,8.2,8.4,8.6,8.8,9,9.2,9.4,9.6,9.8,10],
"labelExpr":"abs(datum.value-round(datum.value))<1e-6 ? format(datum.value,'d') : ''",
"labelFont":"Liberation Sans","labelFontSize":15,"labelColor":"black","labelPadding":8,"labelFlush":false,"labelOverlap":false,
"tickSize":{"condition":{"test":"abs(datum.value-round(datum.value))<1e-6","value":-8},"value":-4},
"tickColor":"black","tickWidth":1,"domainColor":"black","domainWidth":1.2,"grid":false,
"title":"x","titleFont":"Liberation Sans","titleFontSize":16,"titleFontWeight":"bold","titleColor":"black","titlePadding":0}},
"y":{"field":"y","type":"quantitative","scale":{"domain":[0,0.11],"nice":false,"zero":false},
"axis":{"orient":"left","values":[0,0.005,0.01,0.015,0.02,0.025,0.03,0.035,0.04,0.045,0.05,0.055,0.06,0.065,0.07,0.075,0.08,0.085,0.09,0.095,0.1,0.105],
"labelExpr":"abs(datum.value*40-round(datum.value*40))<1e-6 ? format(datum.value,'~g') : ''",
"labelFont":"Liberation Sans","labelFontSize":16,"labelColor":"black","labelPadding":13,"labelFlush":false,"labelOverlap":false,
"tickSize":{"condition":{"test":"abs(datum.value*40-round(datum.value*40))<1e-6","value":-8},"value":-4},
"tickColor":"black","tickWidth":1,"domainColor":"black","domainWidth":1.2,"grid":false,
"title":"δ₀.₉₉₅","titleFont":"Liberation Sans","titleFontSize":18,"titleFontWeight":"normal","titleColor":"black","titlePadding":8,"titleY":159}},
"stroke":{"field":"s","type":"nominal",
"scale":{"domain":["Baseline","ws_a01_un","ws_a01_st","ws_a02_un","ws_a02_st","ws_a10_un","ws_a10_st"],"range":["#333333","#f03c3c","#f03c3c","#2ecc2e","#2ecc2e","#5a6cf8","#3a4cf0"]},
"legend":{"orient":"none","legendX":35,"legendY":25,"padding":4,"fillColor":"white","title":null,"symbolType":"stroke","symbolSize":3969,"symbolStrokeWidth":1.2,"clipHeight":17,"rowPadding":0,"labelOffset":12,"labelFont":"Liberation Sans","labelFontWeight":"bold","labelFontSize":14,"labelColor":"black","labelLimit":300}},
"strokeDash":{"field":"s","type":"nominal",
"scale":{"domain":["Baseline","ws_a01_un","ws_a01_st","ws_a02_un","ws_a02_st","ws_a10_un","ws_a10_st"],"range":[[1,0],[1,0],[4,3],[1,0],[8,3,2,3],[1,0],[8,3,2,3,2,3]]},
"legend":{"orient":"none","legendX":35,"legendY":25,"padding":4,"fillColor":"white","title":null,"symbolType":"stroke","symbolSize":3969,"symbolStrokeWidth":1.2,"clipHeight":17,"rowPadding":0,"labelOffset":12,"labelFont":"Liberation Sans","labelFontWeight":"bold","labelFontSize":14,"labelColor":"black","labelLimit":300}}
}
},
{
"transform":[{"filter":"datum.m == 1"}],
"mark":{"type":"point","filled":false,"size":80,"strokeWidth":1.1,"opacity":1},
"encoding":{
"x":{"field":"x","type":"quantitative","scale":{"domain":[4,10],"nice":false,"zero":false},
"axis":{"orient":"top","values":[4,4.2,4.4,4.6,4.8,5,5.2,5.4,5.6,5.8,6,6.2,6.4,6.6,6.8,7,7.2,7.4,7.6,7.8,8,8.2,8.4,8.6,8.8,9,9.2,9.4,9.6,9.8,10],"labels":false,
"tickSize":{"condition":{"test":"abs(datum.value-round(datum.value))<1e-6","value":-8},"value":-4},
"tickColor":"black","tickWidth":1,"domainColor":"black","domainWidth":1.2,"grid":false,
"title":"(a)","titleX":-73,"titleY":0,"titleAngle":0,"titleAlign":"left","titleBaseline":"top","titleFont":"Liberation Sans","titleFontSize":18,"titleFontWeight":"normal","titleColor":"black"}},
"y":{"field":"y","type":"quantitative","scale":{"domain":[0,0.11],"nice":false,"zero":false},
"axis":{"orient":"right","values":[0,0.005,0.01,0.015,0.02,0.025,0.03,0.035,0.04,0.045,0.05,0.055,0.06,0.065,0.07,0.075,0.08,0.085,0.09,0.095,0.1,0.105],"labels":false,
"tickSize":{"condition":{"test":"abs(datum.value*40-round(datum.value*40))<1e-6","value":-8},"value":-4},
"tickColor":"black","tickWidth":1,"domainColor":"black","domainWidth":1.2,"grid":false,"title":null}},
"color":{"field":"s","type":"nominal",
"scale":{"domain":["ws_a01_un","ws_a01_st","ws_a02_un","ws_a02_st","ws_a10_un","ws_a10_st"],"range":["#f03c3c","#d00000","#2ecc2e","#00b400","#5a6cf8","#1a1ae6"]},
"legend":{"orient":"none","legendX":60.5,"legendY":42,"padding":4,"title":null,"symbolSize":80,"symbolStrokeWidth":1.1,"clipHeight":17,"rowPadding":0,"labelExpr":"''","labelFontSize":14}},
"shape":{"field":"s","type":"nominal",
"scale":{"domain":["ws_a01_un","ws_a01_st","ws_a02_un","ws_a02_st","ws_a10_un","ws_a10_st"],"range":["square","square","triangle-up","triangle-up","triangle-down","triangle-down"]},
"legend":{"orient":"none","legendX":60.5,"legendY":42,"padding":4,"title":null,"symbolSize":80,"symbolStrokeWidth":1.1,"clipHeight":17,"rowPadding":0,"labelExpr":"''","labelFontSize":14}},
"fill":{"field":"s","type":"nominal",
"scale":{"domain":["ws_a01_un","ws_a01_st","ws_a02_un","ws_a02_st","ws_a10_un","ws_a10_st"],"range":["transparent","#d00000","transparent","#00b400","transparent","#1a1ae6"]},
"legend":{"orient":"none","legendX":60.5,"legendY":42,"padding":4,"title":null,"symbolSize":80,"symbolStrokeWidth":1.1,"clipHeight":17,"rowPadding":0,"labelExpr":"''","labelFontSize":14}}
}
}
]
},
{
"width":368,"height":339,
"data":{"name":"b"},
"title":{"text":"Skin friction coefficient","orient":"bottom","frame":"group","anchor":"middle","font":"Liberation Serif","fontSize":18,"fontWeight":"normal","color":"black","offset":2,"dx":-5},
"resolve":{"axis":{"x":"independent","y":"independent"}},
"layer":[
{
"mark":{"type":"line","strokeWidth":1.2,"clip":true},
"encoding":{
"x":{"field":"x","type":"quantitative","scale":{"domain":[4,10],"nice":false,"zero":false},
"axis":{"orient":"bottom","values":[4,4.2,4.4,4.6,4.8,5,5.2,5.4,5.6,5.8,6,6.2,6.4,6.6,6.8,7,7.2,7.4,7.6,7.8,8,8.2,8.4,8.6,8.8,9,9.2,9.4,9.6,9.8,10],
"labelExpr":"abs(datum.value-round(datum.value))<1e-6 ? format(datum.value,'d') : ''",
"labelFont":"Liberation Sans","labelFontSize":16,"labelColor":"black","labelPadding":8,"labelFlush":false,"labelOverlap":false,
"tickSize":{"condition":{"test":"abs(datum.value-round(datum.value))<1e-6","value":-8},"value":-4},
"tickColor":"black","tickWidth":1,"domainColor":"black","domainWidth":1.2,"grid":false,
"title":"X","titleFont":"Liberation Sans","titleFontSize":16,"titleFontWeight":"bold","titleColor":"black","titlePadding":2}},
"y":{"field":"y","type":"quantitative","scale":{"domain":[0,0.00279],"range":[339,4],"nice":false,"zero":false},
"axis":{"orient":"left","values":[0,0.0001,0.0002,0.0003,0.0004,0.0005,0.0006,0.0007,0.0008,0.0009,0.001,0.0011,0.0012,0.0013,0.0014,0.0015,0.0016,0.0017,0.0018,0.0019,0.002,0.0021,0.0022,0.0023,0.0024,0.0025,0.0026,0.0027],
"labelExpr":"abs(datum.value*2000-round(datum.value*2000))<1e-6 ? format(datum.value,'~g') : ''",
"labelFont":"Liberation Sans","labelFontSize":14,"labelColor":"black","labelPadding":21,"labelFlush":false,"labelOverlap":false,
"tickSize":{"condition":{"test":"abs(datum.value*2000-round(datum.value*2000))<1e-6","value":-8},"value":-4},
"tickColor":"black","tickWidth":1,"domainColor":"black","domainWidth":1.2,"grid":false,
"title":"Cf","titleFont":"Liberation Sans","titleFontSize":18,"titleFontWeight":"bold","titleColor":"black","titlePadding":14}},
"stroke":{"field":"s","type":"nominal",
"scale":{"domain":["Baseline","ws_01_un","ws_01_st","ws_02_un","ws_02_st","ws_a10_un","ws_a10_st"],"range":["#333333","#f03c3c","#f03c3c","#2ecc2e","#2ecc2e","#5a6cf8","#5a6cf8"]},
"legend":{"orient":"none","legendX":10,"legendY":10.25,"padding":5,"fillColor":"white","title":null,"symbolType":"stroke","symbolSize":3969,"symbolStrokeWidth":1.2,"clipHeight":16.9,"rowPadding":0,"labelOffset":11,"labelFont":"Liberation Sans","labelFontWeight":"bold","labelFontSize":14,"labelColor":"black","labelLimit":300}},
"strokeDash":{"field":"s","type":"nominal",
"scale":{"domain":["Baseline","ws_01_un","ws_01_st","ws_02_un","ws_02_st","ws_a10_un","ws_a10_st"],"range":[[1,0],[1,0],[8,6],[1,0],[7,6],[1,0],[3,3]]},
"legend":{"orient":"none","legendX":10,"legendY":10.25,"padding":5,"fillColor":"white","title":null,"symbolType":"stroke","symbolSize":3969,"symbolStrokeWidth":1.2,"clipHeight":16.9,"rowPadding":0,"labelOffset":11,"labelFont":"Liberation Sans","labelFontWeight":"bold","labelFontSize":14,"labelColor":"black","labelLimit":300}}
}
},
{
"transform":[{"filter":"datum.m == 1"}],
"mark":{"type":"point","filled":false,"size":80,"strokeWidth":1.1,"opacity":1},
"encoding":{
"x":{"field":"x","type":"quantitative","scale":{"domain":[4,10],"nice":false,"zero":false},
"axis":{"orient":"top","offset":-4,"values":[4,4.2,4.4,4.6,4.8,5,5.2,5.4,5.6,5.8,6,6.2,6.4,6.6,6.8,7,7.2,7.4,7.6,7.8,8,8.2,8.4,8.6,8.8,9,9.2,9.4,9.6,9.8,10],"labels":false,
"tickSize":{"condition":{"test":"abs(datum.value-round(datum.value))<1e-6","value":-8},"value":-4},
"tickColor":"black","tickWidth":1,"domainColor":"black","domainWidth":1.2,"grid":false,
"title":"(b)","titleX":-81,"titleY":-4,"titleAngle":0,"titleAlign":"left","titleBaseline":"top","titleFont":"Liberation Sans","titleFontSize":18,"titleFontWeight":"normal","titleColor":"black"}},
"y":{"field":"y","type":"quantitative","scale":{"domain":[0,0.00279],"range":[339,4],"nice":false,"zero":false},
"axis":{"orient":"right","values":[0,0.0001,0.0002,0.0003,0.0004,0.0005,0.0006,0.0007,0.0008,0.0009,0.001,0.0011,0.0012,0.0013,0.0014,0.0015,0.0016,0.0017,0.0018,0.0019,0.002,0.0021,0.0022,0.0023,0.0024,0.0025,0.0026,0.0027],"labels":false,
"tickSize":{"condition":{"test":"abs(datum.value*2000-round(datum.value*2000))<1e-6","value":-8},"value":-4},
"tickColor":"black","tickWidth":1,"domainColor":"black","domainWidth":1.2,"grid":false,"title":null}},
"color":{"field":"s","type":"nominal",
"scale":{"domain":["ws_01_un","ws_01_st","ws_02_un","ws_02_st","ws_a10_un","ws_a10_st"],"range":["#f03c3c","#d00000","#2ecc2e","#00b400","#5a6cf8","#1a1ae6"]},
"legend":{"orient":"none","legendX":35.5,"legendY":27.15,"padding":5,"title":null,"symbolSize":80,"symbolStrokeWidth":1.1,"clipHeight":16.9,"rowPadding":0,"labelExpr":"''","labelFontSize":14}},
"shape":{"field":"s","type":"nominal",
"scale":{"domain":["ws_01_un","ws_01_st","ws_02_un","ws_02_st","ws_a10_un","ws_a10_st"],"range":["square","square","triangle-up","triangle-up","triangle-down","triangle-down"]},
"legend":{"orient":"none","legendX":35.5,"legendY":27.15,"padding":5,"title":null,"symbolSize":80,"symbolStrokeWidth":1.1,"clipHeight":16.9,"rowPadding":0,"labelExpr":"''","labelFontSize":14}},
"fill":{"field":"s","type":"nominal",
"scale":{"domain":["ws_01_un","ws_01_st","ws_02_un","ws_02_st","ws_a10_un","ws_a10_st"],"range":["transparent","#d00000","transparent","#00b400","transparent","#1a1ae6"]},
"legend":{"orient":"none","legendX":35.5,"legendY":27.15,"padding":5,"title":null,"symbolSize":80,"symbolStrokeWidth":1.1,"clipHeight":16.9,"rowPadding":0,"labelExpr":"''","labelFontSize":14}}
}
}
]
}
]
}
